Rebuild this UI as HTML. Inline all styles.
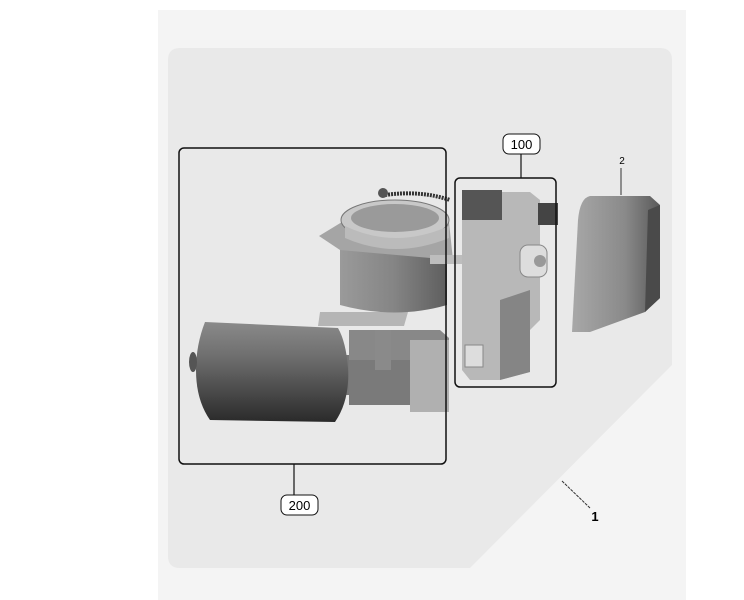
<!DOCTYPE html>
<html><head><meta charset="utf-8"><style>
html,body{margin:0;padding:0;background:#fff;width:744px;height:600px;overflow:hidden}
svg{display:block}
text{font-family:"Liberation Sans",sans-serif}
</style></head><body>
<svg width="744" height="600" viewBox="0 0 744 600">
<defs>
<linearGradient id="mot" x1="0" y1="0" x2="0" y2="1">
<stop offset="0" stop-color="#8a8a8a"/><stop offset="0.35" stop-color="#6e6e6e"/><stop offset="1" stop-color="#2a2a2a"/></linearGradient>
<linearGradient id="cyl" x1="0" y1="0" x2="1" y2="0">
<stop offset="0" stop-color="#9a9a9a"/><stop offset="0.5" stop-color="#858585"/><stop offset="1" stop-color="#5e5e5e"/></linearGradient>
<linearGradient id="cov" x1="0" y1="0" x2="1" y2="0">
<stop offset="0" stop-color="#a8a8a8"/><stop offset="0.6" stop-color="#8a8a8a"/><stop offset="1" stop-color="#5a5a5a"/></linearGradient>
</defs>
<rect x="158" y="10" width="528" height="590" fill="#f4f4f4"/>
<path d="M180 48 H660 Q672 48 672 60 V365 L470 568 H180 Q168 568 168 556 V60 Q168 48 180 48 Z" fill="#e9e9e9"/>
<!-- cover 2 -->
<path d="M590 196 H650 L660 205 V298 L645 312 L590 332 H572 L578 220 Q580 198 590 196 Z" fill="url(#cov)"/>
<path d="M648 210 L660 205 V298 L645 312 Z" fill="#4a4a4a"/>
<!-- motor -->
<rect x="335" y="355" width="22" height="40" fill="#777"/>
<path d="M205 322 Q196 345 196 370 Q196 400 210 420 L335 422 Q350 400 348 368 Q346 342 338 328 Z" fill="url(#mot)"/>
<ellipse cx="193" cy="362" rx="4" ry="10" fill="#555"/>
<!-- base block -->
<path d="M349 330 H440 L449 338 V412 H415 V405 H349 Z" fill="#888"/>
<rect x="410" y="340" width="39" height="72" fill="#b0b0b0"/>
<path d="M349 360 H410 V405 H349 Z" fill="#7a7a7a"/>
<rect x="375" y="330" width="16" height="40" fill="#8a8a8a"/>
<path d="M320 312 H408 L404 326 H318 Z" fill="#b5b5b5"/>
<!-- cylinder -->
<path d="M340 250 H447 V305 Q395 320 340 305 Z" fill="url(#cyl)"/>
<path d="M319 236 L342 222 H449 L453 260 L340 250 Z" fill="#a5a5a5"/>
<ellipse cx="395" cy="220" rx="54" ry="20" fill="#c8c8c8" stroke="#777"/>
<ellipse cx="395" cy="218" rx="44" ry="14" fill="#9a9a9a"/>
<path d="M345 226 Q395 250 449 226 V238 Q395 260 345 238 Z" fill="#bbb"/>
<path d="M385 195 Q420 190 450 200" stroke="#333" stroke-width="4" fill="none" stroke-dasharray="2 1"/>
<circle cx="383" cy="193" r="5" fill="#555"/>
<rect x="430" y="255" width="40" height="9" fill="#bdbdbd"/>
<!-- module 100 -->
<path d="M462 192 H530 L540 200 V320 L530 330 V372 L500 380 H470 L462 370 Z" fill="#b8b8b8"/>
<rect x="462" y="190" width="40" height="30" fill="#555"/>
<path d="M500 300 L530 290 V372 L500 380 Z" fill="#858585"/>
<rect x="538" y="203" width="20" height="22" fill="#444"/>
<rect x="520" y="245" width="27" height="32" rx="8" fill="#ddd" stroke="#888"/>
<circle cx="540" cy="261" r="6" fill="#999"/>
<rect x="465" y="345" width="18" height="22" fill="#ddd" stroke="#888"/>
<!-- boxes -->
<rect x="179" y="148" width="267" height="316" rx="5" fill="none" stroke="#111" stroke-width="1.5"/>
<rect x="455" y="178" width="101" height="209" rx="5" fill="none" stroke="#111" stroke-width="1.5"/>
<line x1="294" y1="464" x2="294" y2="495" stroke="#111" stroke-width="1.2"/>
<rect x="281" y="495" width="37" height="20" rx="6" fill="#fff" stroke="#111"/>
<text x="299.5" y="510" font-size="13" text-anchor="middle">200</text>
<line x1="521" y1="154" x2="521" y2="178" stroke="#111" stroke-width="1.2"/>
<rect x="503" y="134" width="37" height="20" rx="6" fill="#fff" stroke="#111"/>
<text x="521.5" y="149" font-size="13" text-anchor="middle">100</text>
<text x="622" y="164" font-size="10" text-anchor="middle">2</text>
<line x1="621" y1="168" x2="621" y2="195" stroke="#333"/>
<line x1="562" y1="481" x2="590" y2="508" stroke="#333" stroke-dasharray="3 1"/>
<text x="595" y="521" font-size="13" font-weight="bold" text-anchor="middle">1</text>
</svg>
</body></html>
